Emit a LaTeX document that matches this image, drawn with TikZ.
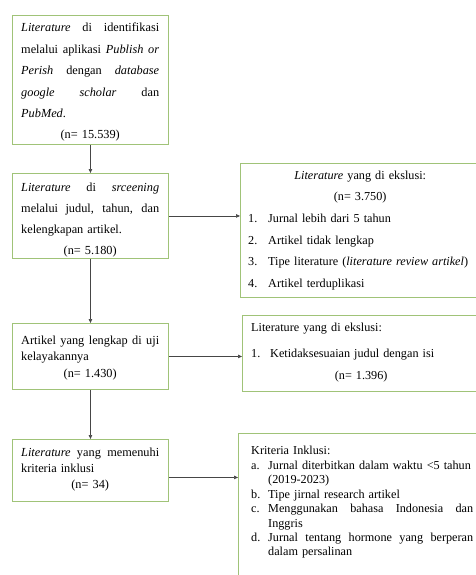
\documentclass[tikz,border=0pt]{standalone}
\usepackage{fontspec}
\setmainfont{Liberation Serif}
\usepackage{tikz}
\usetikzlibrary{arrows.meta}

\definecolor{framegreen}{RGB}{160,195,120}
\definecolor{flowgray}{RGB}{70,70,70}

\newcommand{\jline}[1]{{\spaceskip=.25em plus 1fil\makebox[\linewidth][s]{#1}}}
\newcommand{\midline}[1]{\makebox[\linewidth][c]{#1}}
\newcommand{\lbl}[2]{\makebox[17pt][l]{#1}#2}
\newcommand{\jlbl}[2]{\makebox[17pt][l]{#1}{\spaceskip=.25em plus 1fil\makebox[\dimexpr\linewidth-17pt\relax][s]{#2}}}

\tikzset{
  frame/.style={draw=framegreen, line width=0.9pt, anchor=north west, inner sep=0pt},
  txt/.style={anchor=base west, inner sep=0pt},
  flow/.style={draw=flowgray, line width=0.7pt, -{Triangle[length=4pt,width=3.5pt]}}
}

\begin{document}
\begin{tikzpicture}[x=1pt,y=-1pt]
\useasboundingbox (0,0) rectangle (476,575);

% left column
\node[frame, minimum width=156pt, minimum height=129pt] (lit) at (12,15) {};
\node[txt, text width=138pt, font=\fontsize{12.3}{21.4}\selectfont] (litText) at (21,32) {%
\jline{\textit{Literature} di identifikasi}\\
\jline{melalui aplikasi \textit{Publish or}}\\
\jline{\textit{Perish} dengan \textit{database}}\\
\jline{\textit{google} \textit{scholar} dan}\\
\textit{PubMed}.\\
\midline{(n= 15.539)}};

\node[frame, minimum width=156pt, minimum height=85pt] (scr) at (12,173) {};
\node[txt, text width=138pt, font=\fontsize{12.3}{21}\selectfont] (scrText) at (21,191) {%
\jline{\textit{Literature} di \textit{srceening}}\\
\jline{melalui judul, tahun, dan}\\
kelengkapan artikel.\\
\midline{(n= 5.180)}};

\node[frame, minimum width=156pt, minimum height=66pt] (elig) at (12,323) {};
\node[txt, text width=138pt, font=\fontsize{12.3}{16.5}\selectfont] (eligText) at (21,344) {%
\jline{Artikel yang lengkap di uji}\\
kelayakannya\\
\midline{(n= 1.430)}};

\node[frame, minimum width=156pt, minimum height=62pt] (inc) at (12,439) {};
\node[txt, text width=138pt, font=\fontsize{12.3}{16}\selectfont] (incText) at (21,456) {%
\jline{\textit{Literature} yang memenuhi}\\
kriteria inklusi\\
\midline{(n= 34)}};

% right column
\node[frame, minimum width=260pt, minimum height=134pt] (exc1) at (240,163) {};
\node[txt, text width=224pt, font=\fontsize{12.2}{21.7}\selectfont] (exc1Text) at (248,179) {%
\midline{\textit{Literature} yang di ekslusi:}\\
\midline{(n= 3.750)}\\
\makebox[20pt][l]{1.}Jurnal lebih dari 5 tahun\\
\makebox[20pt][l]{2.}Artikel tidak lengkap\\
\makebox[20pt][l]{3.}Tipe literature (\textit{literature review artikel})\\
\makebox[20pt][l]{4.}Artikel terduplikasi};

\node[frame, minimum width=260pt, minimum height=76pt] (exc2) at (242,315) {};
\node[txt, text width=220pt, font=\fontsize{12.2}{22}\selectfont] (exc2Text) at (251,331) {%
Literature yang di ekslusi:\\[4pt]
\makebox[19pt][l]{1.}Ketidaksesuaian judul dengan isi\\
\midline{(n= 1.396)}};

\node[frame, minimum width=260pt, minimum height=160pt] (crit) at (238,433) {};
\node[txt, text width=222pt, font=\fontsize{12.2}{14.4}\selectfont] (critText) at (251,454) {%
Kriteria Inklusi:\\[1pt]
\lbl{a.}{Jurnal diterbitkan dalam waktu <5 tahun}\\
\lbl{}{(2019-2023)}\\
\lbl{b.}{Tipe jirnal research artikel}\\
\jlbl{c.}{Menggunakan bahasa Indonesia dan}\\
\lbl{}{Inggris}\\
\jlbl{d.}{Jurnal tentang hormone yang berperan}\\
\lbl{}{dalam persalinan}};

% arrows
\draw[flow] (lit.south) -- (scr.north);
\draw[flow] (scr.south) -- (elig.north);
\draw[flow] (elig.south) -- (inc.north);
\draw[flow] (scr.east) -- (scr.east -| exc1.west);
\draw[flow] (elig.east) -- (elig.east -| exc2.west);
\coordinate (incOut) at ([yshift=-7pt]inc.east);
\draw[flow] (incOut) -- (incOut -| crit.west);
\end{tikzpicture}
\end{document}
